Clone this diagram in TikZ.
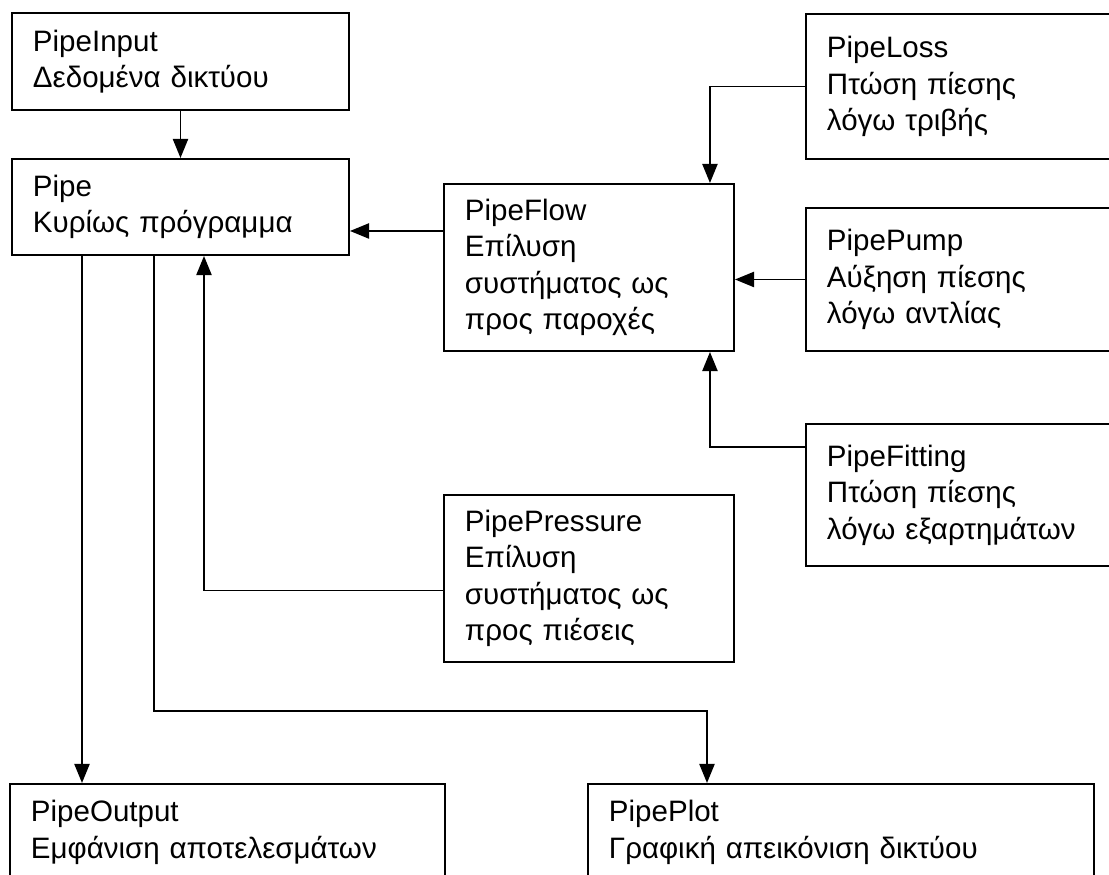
\documentclass[tikz,border=0pt]{standalone}
\usepackage{fontspec}
\setmainfont{Liberation Sans}
\usetikzlibrary{arrows.meta,positioning}

\begin{document}
\begin{tikzpicture}[>={Triangle[length=0.48cm,width=0.38cm]},line width=1.4pt,font=\fontsize{21}{26}\selectfont]
\tikzstyle{md}=[draw,anchor=north west,align=left,inner xsep=0.525cm,inner ysep=0pt]
\useasboundingbox (0,0) rectangle (27.725,-21.875);
\clip (0,0) rectangle (27.725,-21.875);
\node[md,text width=7.375cm,minimum height=2.425cm] (input) at (0.275,-0.3) {PipeInput\\Δεδομένα δικτύου};
\node[md,text width=7.375cm,minimum height=2.4cm] (pipe) at (0.275,-3.95) {Pipe\\Κυρίως πρόγραμμα};
\node[md,text width=6.2cm,minimum height=4.175cm] (flow) at (11.075,-4.575) {PipeFlow\\Επίλυση\\συστήματος ως\\προς παροχές};
\node[md,text width=7.575cm,minimum height=3.625cm] (loss) at (20.125,-0.325) {PipeLoss\\Πτώση πίεσης\\λόγω τριβής};
\node[md,text width=7.575cm,minimum height=3.575cm] (pump) at (20.125,-5.175) {PipePump\\Αύξηση πίεσης\\λόγω αντλίας};
\node[md,text width=7.575cm,minimum height=3.55cm] (fit) at (20.125,-10.575) {PipeFitting\\Πτώση πίεσης\\λόγω εξαρτημάτων};
\node[md,text width=6.2cm,minimum height=4.175cm] (press) at (11.075,-12.35) {PipePressure\\Επίλυση\\συστήματος ως\\προς πιέσεις};
\node[md,text width=9.825cm,minimum height=2.425cm] (out) at (0.225,-19.575) {PipeOutput\\Εμφάνιση αποτελεσμάτων};
\node[md,text width=11.6cm,minimum height=2.425cm] (plot) at (14.675,-19.575) {PipePlot\\Γραφική απεικόνιση δικτύου};
% calls between the modules
\draw[->] (input.south) -- (pipe.north);
\draw[->] ([yshift=-0.6cm]pipe.east -| flow.west) -- ([yshift=-0.6cm]pipe.east);
\draw[->] (loss.west) -| ([xshift=-0.625cm]flow.north east);
\draw[->] (pump.west) -- (pump.west -| flow.east);
\draw[->] ([yshift=-0.6cm]fit.north west) -| ([xshift=-0.625cm]flow.south east);
\draw[->] ([yshift=-0.3cm]press.west) -| ([xshift=4.825cm]pipe.south west);
\draw[->] ([xshift=1.775cm]pipe.south west) -- ([xshift=1.775cm]pipe.south west |- out.north);
\draw[->] ([xshift=3.575cm]pipe.south west) -- ++(0,-11.375) -| ([xshift=3cm]plot.north west);
\end{tikzpicture}
\end{document}
